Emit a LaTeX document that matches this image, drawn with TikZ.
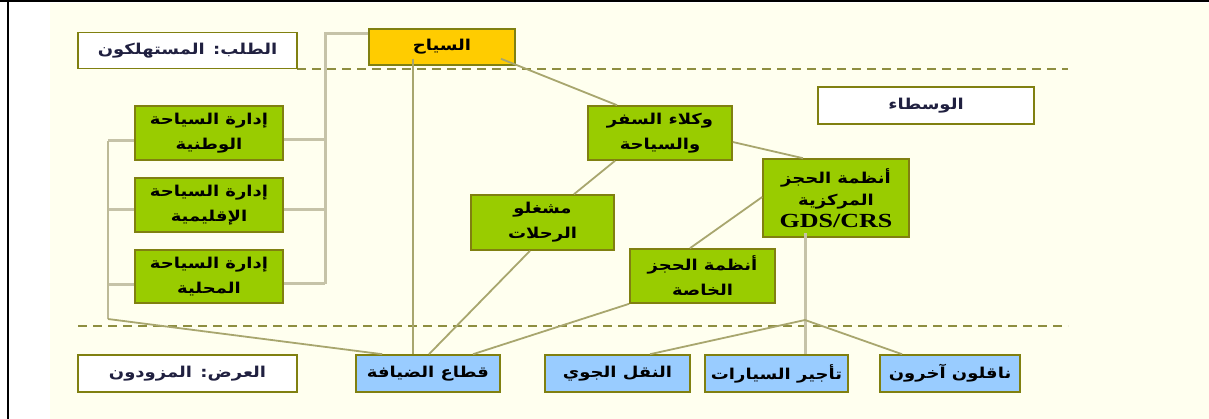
\documentclass[tikz,border=0pt]{standalone}
\usepackage{fontspec}
\newfontfamily\arabicfont[Script=Arabic, FakeStretch=1.2]{DejaVu Sans}
\newfontfamily\gdsfont[FakeStretch=1.3]{Liberation Serif}
\TeXXeTstate=1
\usetikzlibrary{calc}
\newcommand{\artx}[1]{{\arabicfont\bfseries\beginR #1\endR}}
\definecolor{grn}{HTML}{99CC00}
\definecolor{org}{HTML}{FFCC00}
\definecolor{blu}{HTML}{99CCFF}
\definecolor{bord}{HTML}{808010}
\definecolor{bgy}{HTML}{FFFFEF}
\definecolor{tanline}{HTML}{A8A66E}
\definecolor{greyline}{HTML}{C6C3A8}
\definecolor{dashc}{HTML}{8E8E40}
\definecolor{navytxt}{HTML}{202040}
\tikzset{
  basebox/.style={draw=bord, line width=1.6pt, inner sep=0pt, align=center, font=\fontsize{15}{25}\selectfont},
  whitebox/.style={basebox, fill=white, text=navytxt},
  greenbox/.style={basebox, fill=grn},
  orangebox/.style={basebox, fill=org},
  bluebox/.style={basebox, fill=blu},
  thickconn/.style={draw=greyline, line width=3pt},
  thinconn/.style={draw=tanline, line width=1.8pt},
  divider/.style={draw=dashc, line width=1.6pt, dash pattern=on 9pt off 6pt}
}
\begin{document}
\begin{tikzpicture}[x=1pt,y=-1pt]
\useasboundingbox (0,0) rectangle (1209,419);
% background and frame
\fill[bgy] (50,3) rectangle (1209,419);
\draw[black, line width=2pt] (0,1) -- (1209,1);
\draw[black, line width=2pt] (8,0) -- (8,419);

% dividers
\coordinate (dtl) at (297,69);
\coordinate (dtr) at (1068,69);
\coordinate (dbl) at (78,326);
\coordinate (dbr) at (1068,326);
\draw[divider] (dtl) -- (dtr);
\draw[divider] (dbl) -- (dbr);

% nodes
\node[whitebox, minimum width=219pt, minimum height=36pt] (demand) at (187.5,50.5) {\artx{الطلب: المستهلكون}};
\node[orangebox, minimum width=146pt, minimum height=36pt] (tourist) at (442,47) {\artx{السياح}};
\node[whitebox, minimum width=216pt, minimum height=37pt] (inter) at (926,105.5) {\artx{الوسطاء}};
\node[greenbox, minimum width=148pt, minimum height=54pt] (nat) at (209,133) {\artx{إدارة السياحة}\\\artx{الوطنية}};
\node[greenbox, minimum width=148pt, minimum height=54pt] (reg) at (209,205) {\artx{إدارة السياحة}\\\artx{الإقليمية}};
\node[greenbox, minimum width=148pt, minimum height=53pt] (loc) at (209,276.5) {\artx{إدارة السياحة}\\\artx{المحلية}};
\node[greenbox, minimum width=144pt, minimum height=54pt] (agents) at (660,133) {\artx{وكلاء السفر}\\\artx{والسياحة}};
\node[greenbox, minimum width=146pt, minimum height=78pt, font=\fontsize{15}{22}\selectfont] (gds) at (836,198) {\artx{أنظمة الحجز}\\\artx{المركزية}\\{\gdsfont\bfseries\fontsize{20}{24}\selectfont GDS/CRS}};
\node[greenbox, minimum width=143pt, minimum height=55pt] (ops) at (542.5,222.5) {\artx{مشغلو}\\\artx{الرحلات}};
\node[greenbox, minimum width=145pt, minimum height=54pt] (priv) at (702.5,276) {\artx{أنظمة الحجز}\\\artx{الخاصة}};
\node[whitebox, minimum width=219pt, minimum height=37pt] (supply) at (187.5,373.5) {\artx{العرض: المزودون}};
\node[bluebox, minimum width=144pt, minimum height=37pt] (hosp) at (428,373.5) {\artx{قطاع الضيافة}};
\node[bluebox, minimum width=145pt, minimum height=37pt] (air) at (617.5,373.5) {\artx{النقل الجوي}};
\node[bluebox, minimum width=143pt, minimum height=37pt] (car) at (776.5,373.5) {\artx{تأجير السيارات}};
\node[bluebox, minimum width=140pt, minimum height=37pt] (other) at (950,373.5) {\artx{ناقلون آخرون}};

% right bracket (tourist to administrations)
\coordinate (rtop) at (325,34);
\coordinate (rbot) at (325,284);
\draw[thickconn] ([yshift=13pt]tourist.west) -- (rtop) -- (rbot);
\draw[thickconn] ([yshift=-7pt]nat.east) -- ([yshift=-7pt]nat.east -| rtop);
\draw[thickconn] ([yshift=-5pt]reg.east) -- ([yshift=-5pt]reg.east -| rtop);
\draw[thickconn] ([yshift=-7.5pt]loc.east) -- ([yshift=-7.5pt]loc.east -| rtop);

% left bracket (administrations to hospitality)
\coordinate (ltop) at (108,141);
\coordinate (lbot) at (108,319);
\draw[thickconn] ([yshift=-8pt]nat.west) -- (ltop);
\draw[thickconn] ([yshift=-5pt]reg.west) -- ([yshift=-5pt]reg.west -| ltop);
\draw[thickconn] ([yshift=-8pt]loc.west) -- ([yshift=-8pt]loc.west -| ltop);
\draw[draw=greyline!70!tanline, line width=2pt] (ltop) -- (lbot);
\draw[thinconn] (lbot) -- ([xshift=27pt]hosp.north west);

% tourist links
\draw[thinconn] ([xshift=-29pt,yshift=7pt]tourist.south) -- ([xshift=-15pt]hosp.north);
\draw[thinconn] ([xshift=59pt,yshift=7pt]tourist.south) -- ([xshift=-43pt]agents.north);

% intermediaries
\draw[thinconn] ([yshift=-9pt]agents.east) -- ([xshift=-33pt]gds.north);
\draw[thinconn] ([xshift=-45pt]agents.south) -- ([xshift=31.5pt]ops.north);
\draw[thinconn] ([yshift=1pt]gds.west) -- ([xshift=-12.5pt]priv.north);
\draw[thinconn] ([xshift=-12.5pt]ops.south) -- ([xshift=1pt]hosp.north);
\draw[thinconn] (priv.south west) -- ([xshift=45pt]hosp.north);

% GDS to suppliers
\coordinate (junc) at (805,320);
\draw[thickconn] ([xshift=-31pt,yshift=5pt]gds.south) -- ([xshift=28.5pt]car.north);
\draw[thinconn] (junc) -- ([xshift=32.5pt]air.north);
\draw[thinconn] (junc) -- ([xshift=-48pt]other.north);
\end{tikzpicture}
\end{document}
